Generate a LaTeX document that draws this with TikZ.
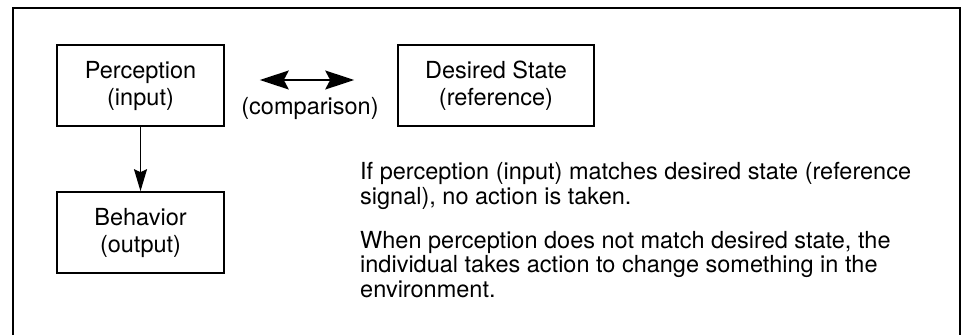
\documentclass[tikz,border=0pt]{standalone}
\usepackage{fontspec}
\setmainfont{TeX Gyre Heros}
\usetikzlibrary{arrows.meta,positioning}

\begin{document}
\begin{tikzpicture}[
  x=1pt, y=-1pt,
  font=\fontsize{23.5}{27}\selectfont,
  block/.style={draw, line width=1.6pt, minimum width=167pt, minimum height=81pt, inner sep=0pt, align=center},
  para/.style={anchor=base west, inner sep=0pt, align=left, font=\fontsize{23.5}{24.5}\selectfont},
  arrow/.style={-{Stealth[length=22pt,width=13pt,inset=3pt]}, line width=1.6pt},
  dblarrow/.style={{Stealth[length=29pt,width=19pt,inset=5pt]}-{Stealth[length=29pt,width=19pt,inset=5pt]}, line width=1.6pt}
]
\useasboundingbox (0,0) rectangle (964,335);
% frame (bottom edge is cut off)
\draw[line width=2pt] (13,335) -- (13,8) -- (960,8) -- (960,335);

\node[block] (perc) at (140.5,85.5) {Perception\\(input)};
\node[block] (behav) at (140.5,232.5) {Behavior\\(output)};
\node[block, minimum width=196pt] (des) at (496,85.5) {Desired State\\(reference)};
\node (cmp) at (310,108) {(comparison)};

\draw[arrow] (perc) -- (behav);
\draw[dblarrow, shorten <=35pt, shorten >=43pt] ([yshift=5.5pt]perc.east) -- ([yshift=5.5pt]des.west);

% base anchor sits on the last line
\node[para] (rule1) at (360,204) {If perception (input) matches desired state (reference\\signal), no action is taken.};
\node[para] (rule2) at (360,297) {When perception does not match desired state, the\\individual takes action to change something in the\\environment.};
\end{tikzpicture}
\end{document}
